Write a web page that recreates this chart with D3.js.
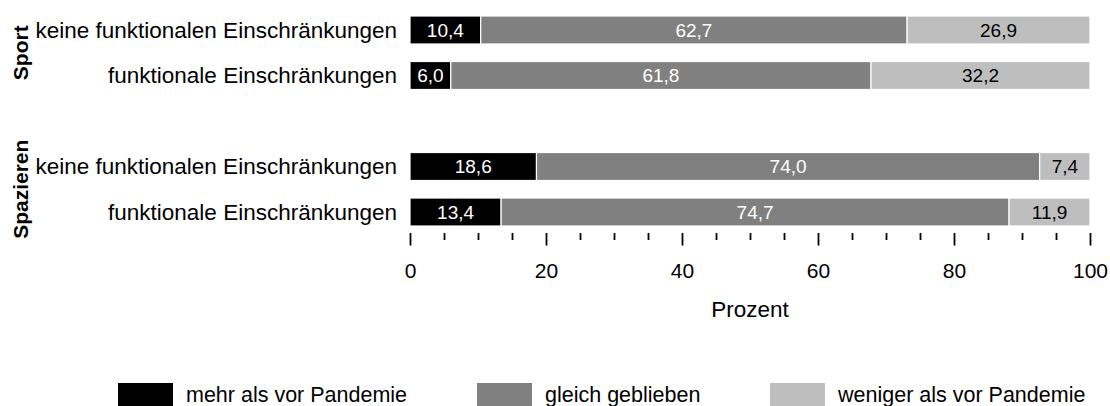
<!DOCTYPE html>
<html>
<head>
  <meta charset="utf-8">
  <title>Sport und Spazieren im Vergleich zur Zeit vor der Pandemie</title>
  <style>
    body { margin: 0; background: #fff; }
    text { font-family: "Liberation Sans", Arial, sans-serif; }
  </style>
</head>
<body>

  <script src="https://cdn.jsdelivr.net/npm/d3@7"></script>

  <script>
    // data
    var groups = ["Sport", "Spazieren"];
    var categories = ["keine funktionalen Einschränkungen", "funktionale Einschränkungen"];
    var series = ["mehr als vor Pandemie", "gleich geblieben", "weniger als vor Pandemie"];
    var mehr    = [10.4, 6.0, 18.6, 13.4];
    var gleich  = [62.7, 61.8, 74.0, 74.7];
    var weniger = [26.9, 32.2, 7.4, 11.9];
    var xTicks  = [0, 20, 40, 60, 80, 100];
    var colors  = ["#000000", "#808080", "#bebebe"];
    var labelColors = ["#ffffff", "#ffffff", "#000000"];

    var width = 1110, height = 406;

    var svg = d3.select("body").append("svg")
        .attr("width", width)
        .attr("height", height);

    // build one row per group x category, with an empty slot between groups
    var rows = [];
    groups.forEach(function(g, gi) {
      categories.forEach(function(c, ci) {
        var i = gi * categories.length + ci;
        rows.push({key: g + "|" + c, group: g, category: c,
                   mehr: mehr[i], gleich: gleich[i], weniger: weniger[i]});
      });
    });
    var slots = [rows[0].key, rows[1].key, "gap", rows[2].key, rows[3].key];

    var x = d3.scaleLinear().domain([0, 100]).range([410, 1090]);
    var y = d3.scaleBand().domain(slots).range([16, 226]).paddingInner(0.385).paddingOuter(0);

    var stack = d3.stack().keys(["mehr", "gleich", "weniger"]);
    var stacked = stack(rows);

    var fmt = function(v) { return d3.format(".1f")(v).replace(".", ","); };

    var layers = svg.selectAll(".layer")
        .data(stacked)
        .enter().append("g")
        .attr("class", "layer");

    layers.selectAll("rect")
        .data(function(d) { return d; })
        .enter().append("rect")
        .attr("x", function(d) { return x(d[0]); })
        .attr("y", function(d) { return y(d.data.key); })
        .attr("width", function(d) { return x(d[1]) - x(d[0]); })
        .attr("height", y.bandwidth())
        .attr("fill", function(d, i, n) { return colors[d3.select(n[i].parentNode).datum().index]; })
        .attr("stroke", "#ffffff")
        .attr("stroke-width", 1.2);

    // value labels centred in each segment
    layers.selectAll("text")
        .data(function(d) { return d.map(function(p) { p.layer = d.index; return p; }); })
        .enter().append("text")
        .attr("x", function(d) { return (x(d[0]) + x(d[1])) / 2; })
        .attr("y", function(d) { return y(d.data.key) + y.bandwidth() / 2; })
        .attr("dy", "0.35em")
        .attr("text-anchor", "middle")
        .style("font-size", "19px")
        .attr("fill", function(d) { return labelColors[d.layer]; })
        .text(function(d) { return fmt(d[1] - d[0]); });

    // category labels
    svg.selectAll(".cat")
        .data(rows)
        .enter().append("text")
        .attr("class", "cat")
        .attr("x", 397)
        .attr("y", function(d) { return y(d.key) + y.bandwidth() / 2; })
        .attr("dy", "0.35em")
        .attr("text-anchor", "end")
        .style("font-size", "22.5px")
        .text(function(d) { return d.category; });

    // group labels, rotated
    groups.forEach(function(g) {
      var r = rows.filter(function(d) { return d.group === g; });
      var cy = (y(r[0].key) + y(r[r.length - 1].key) + y.bandwidth()) / 2;
      svg.append("text")
          .attr("transform", "translate(28," + cy + ") rotate(-90)")
          .attr("text-anchor", "middle")
          .style("font-size", "21px")
          .style("font-weight", "bold")
          .text(g);
    });

    // x axis: minor ticks every 5, major ticks with labels every 20
    var minor = d3.range(0, 101, 5).filter(function(v) { return xTicks.indexOf(v) < 0; });

    var minorAxis = svg.append("g")
        .attr("transform", "translate(0,233)")
        .call(d3.axisBottom(x).tickValues(minor).tickSize(7).tickFormat(""));
    minorAxis.select(".domain").remove();

    var majorAxis = svg.append("g")
        .attr("transform", "translate(0,233)")
        .call(d3.axisBottom(x).tickValues(xTicks).tickSize(12.5).tickPadding(17.5)
          .tickFormat(function(d) { return d; }));
    majorAxis.select(".domain").remove();
    majorAxis.selectAll("text")
        .style("font-family", "'Liberation Sans', Arial, sans-serif")
        .style("font-size", "21px")
        .attr("fill", "#000");

    svg.selectAll(".tick line")
        .attr("stroke", "#000")
        .attr("stroke-width", 1.8);

    // axis title
    svg.append("text")
        .attr("x", (x(0) + x(100)) / 2)
        .attr("y", 317)
        .attr("text-anchor", "middle")
        .style("font-size", "22.5px")
        .text("Prozent");

    // legend
    var legendX = [118, 477, 770];
    var legend = svg.selectAll(".legend")
        .data(series)
        .enter().append("g")
        .attr("class", "legend")
        .attr("transform", function(d, i) { return "translate(" + legendX[i] + ",383)"; });

    legend.append("rect")
        .attr("width", 55)
        .attr("height", 26)
        .attr("fill", function(d, i) { return colors[i]; });

    legend.append("text")
        .attr("x", 68)
        .attr("y", 18.5)
        .style("font-size", "21.5px")
        .text(function(d) { return d; });
  </script>

</body>
</html>
